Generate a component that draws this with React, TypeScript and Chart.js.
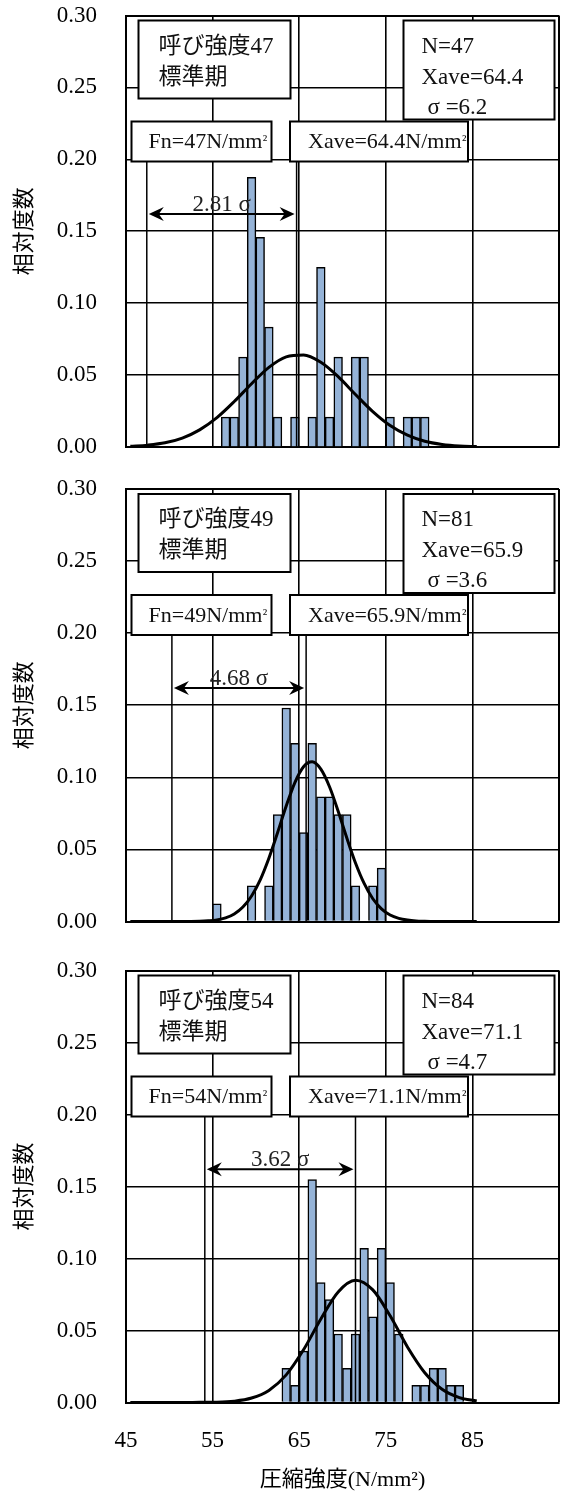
import React, { useEffect, useRef } from 'react';
import { Chart, registerables } from 'chart.js';

Chart.register(...registerables);

const FONT_FAMILY = '"Liberation Serif", "Noto Sans CJK JP", serif';
Chart.defaults.font.family = FONT_FAMILY;
Chart.defaults.color = '#000';

// ---- axes ----
const xTickValues = [45, 55, 65, 75, 85, 95];
const yTickValues = [0, 0.05, 0.1, 0.15, 0.2, 0.25, 0.3];
const xTitle = '圧縮強度(N/mm²)';
const yTitle = '相対度数';

// ---- panel labels ----
const strengthNames = ['呼び強度47', '呼び強度49', '呼び強度54'];
const periodName = '標準期';
const nValues = [47, 81, 84];
const xaveValues = [64.4, 65.9, 71.1];
const sigmaValues = [6.2, 3.6, 4.7];
const fnValues = [47, 49, 54];
const marginSigmas = ['2.81', '4.68', '3.62'];
const fnMarkerX = [47.4, 50.3, 54.1];
const xaveMarkerX = [64.7, 65.8, 71.5];
const arrowLevel = 0.162;
const markerTop = 0.2;

// ---- histogram bins (lower bound of 1 N/mm2 class) and relative frequency ----
const binStart1 = [56, 57, 58, 59, 60, 61, 62, 64, 66, 67, 68, 69, 71, 72, 75, 77, 78, 79];
const freq1 = [0.0208, 0.0208, 0.0625, 0.1875, 0.1458, 0.0833, 0.0208, 0.0208, 0.0208, 0.125, 0.0208, 0.0625, 0.0625, 0.0625, 0.0208, 0.0208, 0.0208, 0.0208];

const binStart2 = [55, 59, 61, 62, 63, 64, 65, 66, 67, 68, 69, 70, 71, 73, 74];
const freq2 = [0.0123, 0.0247, 0.0247, 0.0741, 0.1481, 0.1235, 0.0617, 0.1235, 0.0864, 0.0864, 0.0741, 0.0741, 0.0247, 0.0247, 0.037];

const binStart3 = [63, 64, 65, 66, 67, 68, 69, 70, 71, 72, 73, 74, 75, 76, 78, 79, 80, 81, 82, 83];
const freq3 = [0.0238, 0.0119, 0.0357, 0.1548, 0.0833, 0.0714, 0.0476, 0.0238, 0.0476, 0.1071, 0.0595, 0.1071, 0.0833, 0.0476, 0.0119, 0.0119, 0.0238, 0.0238, 0.0119, 0.0119];

// ---- normal curves ----
const curveX1 = [45.5, 47.5, 49.5, 51.5, 53.5, 55.5, 57.5, 59.5, 61.5, 63.5, 65.5, 67.5, 69.5, 71.5, 73.5, 75.5, 77.5, 79.5, 81.5, 83.5, 85.5];
const curveY1 = [0.0005, 0.0013, 0.0029, 0.0062, 0.0119, 0.0204, 0.0316, 0.044, 0.0554, 0.0627, 0.064, 0.0589, 0.0489, 0.0365, 0.0246, 0.0149, 0.0082, 0.004, 0.0018, 0.0007, 0.0003];

const curveX2 = [45.5, 47.5, 49.5, 51.5, 53.5, 54.5, 55.5, 56.5, 57.5, 58.5, 59.5, 60.5, 61.5, 62.5, 63.5, 64.5, 65.5, 66.5, 67.5, 68.5, 69.5, 70.5, 71.5, 72.5, 73.5, 74.5, 75.5, 76.5, 77.5, 78.5, 79.5, 81.5, 83.5, 85.5];
const curveY2 = [0, 0, 0, 0, 0.0002, 0.0005, 0.0011, 0.0025, 0.0052, 0.01, 0.0177, 0.0289, 0.0439, 0.0616, 0.0801, 0.0964, 0.1074, 0.1108, 0.1057, 0.0935, 0.0765, 0.0579, 0.0406, 0.0264, 0.0158, 0.0088, 0.0045, 0.0022, 0.001, 0.0004, 0.0002, 0, 0, 0];

const curveX3 = [45.5, 47.5, 49.5, 51.5, 53.5, 55.5, 57.5, 59.5, 61.5, 63.5, 65.5, 67.5, 69.5, 71.5, 73.5, 75.5, 77.5, 79.5, 81.5, 83.5, 85.5];
const curveY3 = [0, 0, 0, 0, 0.0001, 0.0002, 0.0009, 0.0031, 0.0084, 0.0192, 0.0366, 0.058, 0.0768, 0.0849, 0.0782, 0.0602, 0.0386, 0.0207, 0.0092, 0.0034, 0.0011];

const binStarts = [binStart1, binStart2, binStart3];
const freqs = [freq1, freq2, freq3];
const curveXs = [curveX1, curveX2, curveX3];
const curveYs = [curveY1, curveY2, curveY3];

const panelLayout = [
  { top: 0, height: 470, padTop: 15.5, padBottom: 23, xAxisH: 0 },
  { top: 470, height: 475, padTop: 19, padBottom: 23.5, xAxisH: 0 },
  { top: 945, height: 552, padTop: 25.5, padBottom: 0, xAxisH: 94.5 },
];

function drawHead(ctx: CanvasRenderingContext2D, tipX: number, y: number, dir: number) {
  ctx.beginPath();
  ctx.moveTo(tipX, y);
  ctx.lineTo(tipX + dir * 15, y - 7);
  ctx.lineTo(tipX + dir * 10, y);
  ctx.lineTo(tipX + dir * 15, y + 7);
  ctx.closePath();
  ctx.fill();
}

function drawBox(ctx: CanvasRenderingContext2D, l: number, t: number, w: number, h: number) {
  ctx.fillStyle = '#fff';
  ctx.fillRect(l, t, w, h);
  ctx.strokeStyle = '#000';
  ctx.lineWidth = 2;
  ctx.strokeRect(l, t, w, h);
}

// text followed by a smaller "²"
function unitText(ctx: CanvasRenderingContext2D, main: string, x: number, y: number) {
  ctx.font = '22px ' + FONT_FAMILY;
  ctx.fillText(main, x, y);
  const w = ctx.measureText(main).width;
  ctx.font = '15px ' + FONT_FAMILY;
  ctx.fillText('²', x + w + 0.5, y - 1);
}

function makeOverlay(i: number) {
  return {
    id: 'overlay' + i,
    afterDatasetsDraw(chart: any) {
      const { ctx, chartArea: a, scales } = chart;
      const xs = scales.x;
      const ys = scales.y;
      ctx.save();
      const font = '23px ' + FONT_FAMILY;
      // arrow between Fn and Xave
      const x1 = xs.getPixelForValue(fnMarkerX[i]) + 2;
      const x2 = xs.getPixelForValue(xaveMarkerX[i]) - 2;
      const ay = ys.getPixelForValue(arrowLevel);
      ctx.strokeStyle = '#000';
      ctx.fillStyle = '#000';
      ctx.lineWidth = 2;
      ctx.beginPath();
      ctx.moveTo(x1 + 8, ay);
      ctx.lineTo(x2 - 8, ay);
      ctx.stroke();
      drawHead(ctx, x1, ay, 1);
      drawHead(ctx, x2, ay, -1);
      ctx.font = font;
      ctx.textAlign = 'center';
      ctx.textBaseline = 'alphabetic';
      ctx.fillStyle = '#222';
      ctx.fillText(marginSigmas[i] + ' σ', (x1 + x2) / 2, ay - 3);

      // boxes
      ctx.textAlign = 'left';
      ctx.textBaseline = 'middle';
      // name box
      let l = a.left + 12.5, t = a.top + 5;
      drawBox(ctx, l, t, 152, 78);
      ctx.fillStyle = '#111';
      ctx.font = font;
      ctx.fillText(strengthNames[i], l + 20, t + 26);
      ctx.fillText(periodName, l + 20, t + 57);
      // stats box
      l = a.left + 277.5; t = a.top + 5;
      drawBox(ctx, l, t, 151, 99);
      ctx.fillStyle = '#111';
      ctx.font = font;
      ctx.fillText('N=' + nValues[i], l + 18, t + 26);
      ctx.fillText('Xave=' + xaveValues[i].toFixed(1), l + 18, t + 57);
      ctx.fillText('σ =' + sigmaValues[i].toFixed(1), l + 24, t + 87);
      // Fn box
      l = a.left + 5.5; t = a.top + 106;
      drawBox(ctx, l, t, 140, 40);
      ctx.fillStyle = '#111';
      unitText(ctx, 'Fn=' + fnValues[i] + 'N/mm', l + 17, t + 21);
      // Xave box
      l = a.left + 164; t = a.top + 106;
      drawBox(ctx, l, t, 178, 40);
      ctx.fillStyle = '#111';
      unitText(ctx, 'Xave=' + xaveValues[i].toFixed(1) + 'N/mm', l + 18, t + 21);
      ctx.restore();
    },
  };
}

function Panel({ idx }: { idx: number }) {
  const ref = useRef<HTMLCanvasElement>(null);
  const lay = panelLayout[idx];
  const showX = idx === 2;
  useEffect(() => {
    const canvas = ref.current!;
    const barData = binStarts[idx].map((b, j) => ({ x: b + 0.5, y: freqs[idx][j] }));
    const curveData = curveXs[idx].map((x, j) => ({ x, y: curveYs[idx][j] }));
    const chart = new Chart(canvas, {
      type: 'bar',
      data: {
        datasets: [
          {
            type: 'bar',
            data: barData as any,
            backgroundColor: '#95B3D7',
            borderColor: '#000',
            borderWidth: 1.5,
            categoryPercentage: 1,
            barPercentage: 1,
            order: 3,
          } as any,
          {
            type: 'line',
            data: [{ x: fnMarkerX[idx], y: 0 }, { x: fnMarkerX[idx], y: markerTop }],
            borderColor: '#000',
            borderWidth: 1.5,
            pointRadius: 0,
            order: 2,
          } as any,
          {
            type: 'line',
            data: [{ x: xaveMarkerX[idx], y: 0 }, { x: xaveMarkerX[idx], y: markerTop }],
            borderColor: '#000',
            borderWidth: 1.5,
            pointRadius: 0,
            order: 2,
          } as any,
          {
            type: 'line',
            data: curveData,
            borderColor: '#000',
            borderWidth: 3,
            pointRadius: 0,
            cubicInterpolationMode: 'monotone',
            order: 1,
          } as any,
        ],
      },
      options: {
        responsive: false,
        maintainAspectRatio: false,
        animation: false,
        devicePixelRatio: 1,
        events: [],
        layout: { padding: { left: 0, right: 6, top: lay.padTop, bottom: lay.padBottom } },
        plugins: { legend: { display: false }, tooltip: { enabled: false } },
        scales: {
          x: {
            type: 'linear',
            min: 45,
            max: 95,
            offset: false,
            afterBuildTicks: (s: any) => {
              s.ticks = xTickValues.map((v) => ({ value: v }));
            },
            afterFit: (s: any) => {
              s.height = lay.xAxisH;
            },
            grid: {
              color: '#000',
              lineWidth: (c: any) => (c.tick && c.tick.value === 95 ? 2 : 1.6),
              drawTicks: true,
              tickLength: 24.7,
              tickColor: 'rgba(0,0,0,0)',
              offset: false,
            },
            border: { display: true, color: '#000', width: 2 },
            ticks: {
              display: showX,
              autoSkip: false,
              maxRotation: 0,
              padding: 0,
              color: '#000',
              font: { size: 23, lineHeight: 1.2 },
              callback: (v: any) => (v === 95 ? '' : String(v)),
            },
            title: {
              display: showX,
              text: xTitle,
              color: '#000',
              font: { size: 22, lineHeight: 1.2 },
              padding: { top: 0, bottom: 3.8 },
            },
          },
          y: {
            min: 0,
            max: 0.3,
            afterBuildTicks: (s: any) => {
              s.ticks = yTickValues.map((v) => ({ value: v }));
            },
            afterFit: (s: any) => {
              s.width = 126;
            },
            grid: {
              color: '#000',
              lineWidth: (c: any) => (c.index === yTickValues.length - 1 ? 2 : 1.6),
              drawTicks: true,
              tickLength: 29,
              tickColor: 'rgba(0,0,0,0)',
            },
            border: { display: true, color: '#000', width: 2 },
            ticks: {
              padding: 0,
              color: '#000',
              font: { size: 23, lineHeight: 1.2 },
              callback: (v: any) => Number(v).toFixed(2),
            },
            title: {
              display: true,
              text: yTitle,
              color: '#000',
              font: { size: 22, lineHeight: 1.2 },
              padding: { top: 12, bottom: 0 },
            },
          },
        },
      } as any,
      plugins: [makeOverlay(idx)],
    });
    return () => chart.destroy();
  }, [idx]);
  return (
    <canvas
      ref={ref}
      width={565}
      height={lay.height}
      style={{ position: 'absolute', left: 0, top: lay.top, width: 565, height: lay.height, display: 'block' }}
    />
  );
}

export default function App() {
  return (
    <div style={{ position: 'absolute', left: 0, top: 0, width: 565, height: 1497, background: '#fff', overflow: 'hidden' }}>
      <Panel idx={0} />
      <Panel idx={1} />
      <Panel idx={2} />
    </div>
  );
}
